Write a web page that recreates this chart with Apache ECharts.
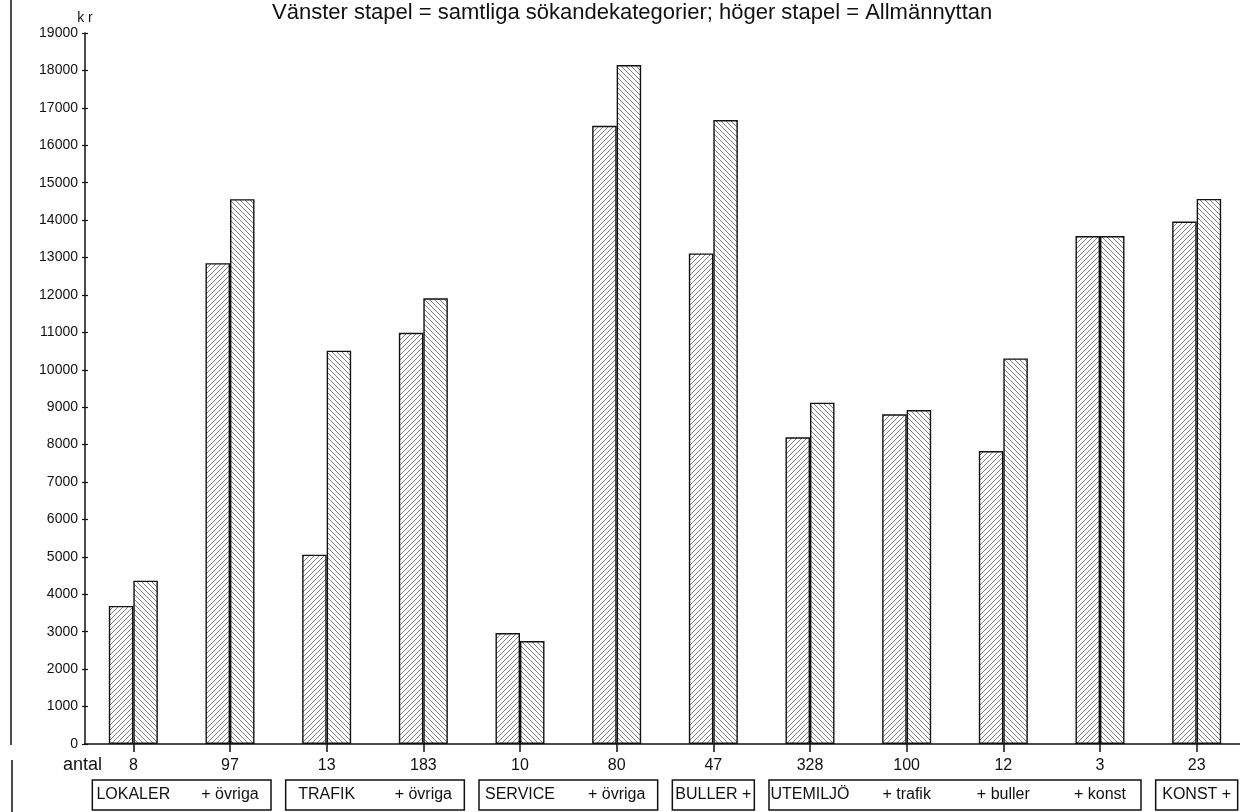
<!DOCTYPE html>
<html><head><meta charset="utf-8">
<script src="https://cdn.jsdelivr.net/npm/echarts@6/dist/echarts.min.js"></script>
<style>html,body{margin:0;padding:0;background:#fff}#c{width:1240px;height:812px}</style>
</head><body><div id="c"></div>
<script>
// ---- data ----
const counts = ['8', '97', '13', '183', '10', '80', '47', '328', '100', '12', '3', '23'];
const groupLabels = ['LOKALER', '+ övriga', 'TRAFIK', '+ övriga', 'SERVICE', '+ övriga', 'BULLER +', 'UTEMILJÖ', '+ trafik', '+ buller', '+ konst', 'KONST +'];
const samtliga = [3690, 12850, 5060, 10990, 2965, 16520, 13110, 8195, 8810, 7830, 13575, 13960];
const allmannyttan = [4365, 14560, 10510, 11910, 2750, 18145, 16675, 9120, 8925, 10305, 13575, 14565];
const titleText = 'Vänster stapel = samtliga sökandekategorier; höger stapel = Allmännyttan';
const yName = 'k r';
const countLabel = 'antal';
// which categories each label box encloses (first, last)
const boxGroups = [[0, 1], [2, 3], [4, 5], [6, 6], [7, 10], [11, 11]];

const FONT = "'Liberation Sans', Arial, Helvetica, sans-serif";
const INK = '#111';

function hatch(dir) {
  const s = 5;
  const c = document.createElement('canvas');
  c.width = s; c.height = s;
  const g = c.getContext('2d');
  g.fillStyle = '#fff'; g.fillRect(0, 0, s, s);
  g.strokeStyle = '#555'; g.lineWidth = 0.75;
  g.beginPath();
  if (dir > 0) {
    g.moveTo(-1, s + 1); g.lineTo(s + 1, -1);
    g.moveTo(-1, 1); g.lineTo(1, -1);
    g.moveTo(s - 1, s + 1); g.lineTo(s + 1, s - 1);
  } else {
    g.moveTo(-1, -1); g.lineTo(s + 1, s + 1);
    g.moveTo(s - 1, -1); g.lineTo(s + 1, 1);
    g.moveTo(-1, s - 1); g.lineTo(1, s + 1);
  }
  g.stroke();
  return c;
}

const chart = echarts.init(document.getElementById('c'), null, { renderer: 'canvas' });
const option = {
  backgroundColor: '#fff',
  animation: false,
  title: {
    text: titleText, left: 267, top: -3,
    textStyle: { fontFamily: FONT, fontSize: 22, fontWeight: 'normal', color: INK }
  },
  grid: { left: 85, top: 33, bottom: 68, width: 1160, containLabel: false, outerBoundsMode: 'none' },
  xAxis: [{
    type: 'category', data: counts, position: 'bottom',
    axisLine: { show: true, lineStyle: { color: INK, width: 1.5 } },
    axisTick: { show: true, alignWithLabel: true, length: 8, lineStyle: { color: INK, width: 1.5 } },
    axisLabel: { margin: 14, fontFamily: FONT, fontSize: 16, color: INK },
    splitLine: { show: false }
  }, {
    type: 'category', data: groupLabels, position: 'bottom',
    axisLine: { show: false }, axisTick: { show: false },
    axisLabel: { margin: 43, fontFamily: FONT, fontSize: 16, color: INK, interval: 0 },
    splitLine: { show: false }
  }],
  yAxis: [{
    type: 'value', min: 0, max: 19000, interval: 1000,
    name: yName, nameLocation: 'end', nameGap: 8,
    nameTextStyle: { fontFamily: FONT, fontSize: 14, color: INK, align: 'center' },
    axisLine: { show: true, lineStyle: { color: INK, width: 1.5 } },
    axisTick: { show: true, length: 3, lineStyle: { color: INK, width: 1.2 } },
    axisLabel: { margin: 7, fontFamily: FONT, fontSize: 14, color: INK, formatter: v => String(v) },
    splitLine: { show: false }
  }, {
    type: 'value', min: 0, max: 19000, interval: 1000, position: 'left',
    axisLine: { show: false },
    axisTick: { show: true, inside: true, length: 3, lineStyle: { color: INK, width: 1.2 } },
    axisLabel: { show: false }, splitLine: { show: false }
  }],
  series: [{
    name: 'samtliga sökandekategorier', type: 'bar', data: samtliga,
    xAxisIndex: 0, yAxisIndex: 0, barWidth: 24.5, barGap: '0%',
    itemStyle: { color: { image: hatch(1), repeat: 'repeat' }, borderColor: INK, borderWidth: 1.4 }
  }, {
    name: 'Allmännyttan', type: 'bar', data: allmannyttan,
    xAxisIndex: 0, yAxisIndex: 0, barWidth: 24.5, barGap: '0%',
    itemStyle: { color: { image: hatch(-1), repeat: 'repeat' }, borderColor: INK, borderWidth: 1.4 }
  }]
};
chart.setOption(option);

const graphics = [
  { type: 'text', left: 63, top: 756, style: { text: countLabel, font: "18px 'Liberation Sans', Arial, sans-serif", fill: INK } },
  { type: 'line', shape: { x1: 11, y1: 0, x2: 11, y2: 745 }, style: { stroke: INK, lineWidth: 1.5 } },
  { type: 'line', shape: { x1: 12, y1: 760, x2: 12, y2: 812 }, style: { stroke: INK, lineWidth: 1.5 } }
];
boxGroups.forEach(([a, b]) => {
  const x1 = chart.convertToPixel({ xAxisIndex: 0 }, a) - 41;
  const x2 = chart.convertToPixel({ xAxisIndex: 0 }, b) + 41;
  graphics.push({ type: 'rect', shape: { x: x1, y: 780, width: x2 - x1, height: 30 }, style: { fill: 'none', stroke: INK, lineWidth: 1.5 } });
});
chart.setOption({ graphic: graphics });
</script>
</body></html>
